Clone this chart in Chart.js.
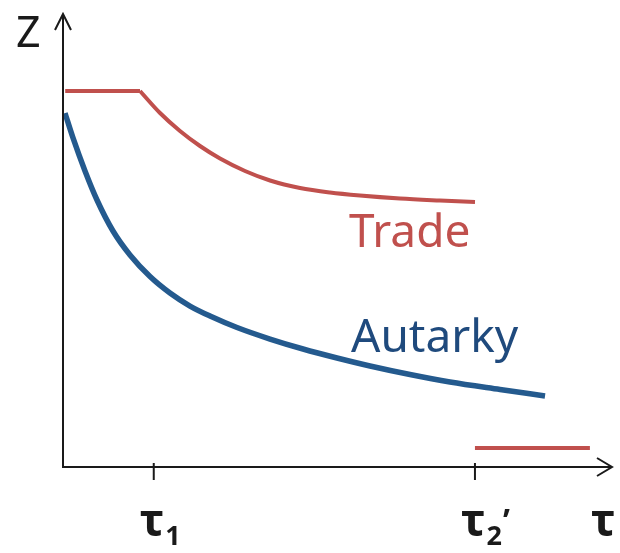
<!DOCTYPE html>
<html>
<head>
<meta charset="utf-8">
<script src="https://cdn.jsdelivr.net/npm/chart.js@4"></script>
<style>
html,body{margin:0;padding:0;background:#fff;}
#wrap{width:620px;height:553px;}
</style>
</head>
<body>
<div id="wrap"><canvas id="c" width="620" height="553"></canvas></div>
<script>
// ---- data (τ on x, Z on y, arbitrary units) ----
const tradeFlatTau = [0.04, 1.40];
const tradeFlatZ   = [8.28, 8.28];
const tradeCurveTau = [1.400, 1.764, 2.127, 2.491, 2.855, 3.309, 3.764, 4.309, 4.855, 5.400, 6.127, 6.855, 7.491];
const tradeCurveZ   = [8.282, 7.797, 7.401, 7.070, 6.795, 6.520, 6.311, 6.145, 6.046, 5.980, 5.914, 5.870, 5.837];
const tradeHighTau = [7.49, 9.58];
const tradeHighZ   = [0.42, 0.42];
const autarkyTau = [0.036, 0.182, 0.400, 0.618, 0.909, 1.218, 1.582, 1.945, 2.309, 2.673, 3.164, 3.764, 4.364, 4.982, 5.582, 6.309, 7.036, 7.945, 8.764];
const autarkyZ   = [7.797, 7.247, 6.520, 5.881, 5.198, 4.670, 4.196, 3.833, 3.546, 3.326, 3.073, 2.819, 2.599, 2.401, 2.225, 2.037, 1.872, 1.707, 1.564];
const tickValues = [1.65, 7.49];
const tickLabels = [["τ", "1", ""], ["τ", "2", "’"]];
const axisLabelY = "Z";
const axisLabelX = "τ";
const seriesLabels = ["Trade", "Autarky"];

const RED = "#C0504D";
const BLUE = "#245A8E";
const BLUE_TEXT = "#1F4A7D";

function pts(xs, ys){ return xs.map((x,i)=>({x:x, y:ys[i]})); }

const decor = {
  id: "decor",
  afterDraw(chart){
    const ctx = chart.ctx;
    const xs = chart.scales.x, ys = chart.scales.y;
    const x0 = xs.getPixelForValue(0), y0 = ys.getPixelForValue(0);
    const xEnd = xs.getPixelForValue(10), yTop = ys.getPixelForValue(10);
    ctx.save();
    ctx.strokeStyle = "#1a1a1a";
    ctx.lineWidth = 2;
    ctx.lineCap = "butt";
    // axes
    ctx.beginPath();
    ctx.moveTo(x0, y0 + 1); ctx.lineTo(x0, yTop + 1);
    ctx.moveTo(x0, y0); ctx.lineTo(xEnd - 1, y0);
    ctx.stroke();
    // arrows
    ctx.beginPath();
    ctx.moveTo(x0 - 8, yTop + 17); ctx.lineTo(x0, yTop + 1); ctx.lineTo(x0 + 8, yTop + 17);
    ctx.moveTo(xEnd - 16, y0 - 9); ctx.lineTo(xEnd - 1, y0); ctx.lineTo(xEnd - 16, y0 + 9);
    ctx.stroke();
    // tick marks
    tickValues.forEach(v=>{
      const px = xs.getPixelForValue(v);
      ctx.beginPath(); ctx.moveTo(px, y0 - 4); ctx.lineTo(px, y0 + 13); ctx.stroke();
    });
    // tick labels
    ctx.fillStyle = "#1a1a1a";
    ctx.textBaseline = "alphabetic";
    ctx.textAlign = "left";
    tickValues.forEach((v,i)=>{
      const px = xs.getPixelForValue(v);
      const [g, sub, pr] = tickLabels[i];
      ctx.font = "bold 45px 'Noto Sans'";
      const gw = ctx.measureText(g).width;
      const left = px - 14;
      ctx.fillText(g, left, 536);
      ctx.font = "bold 27px 'Noto Sans'";
      const sw = ctx.measureText(sub).width;
      ctx.fillText(sub, left + gw + 1, 545);
      if (pr) {
        ctx.font = "bold 32px 'Noto Sans'";
        ctx.fillText(pr, left + gw + sw + 2, 532);
      }
    });
    // axis labels
    ctx.font = "bold 45px 'Noto Sans'";
    ctx.fillText(axisLabelX, 591, 536);
    ctx.font = "43px 'Noto Sans'";
    ctx.fillText(axisLabelY, 16, 47);
    // series labels
    ctx.font = "46px 'Noto Sans'";
    ctx.fillStyle = RED;
    ctx.fillText(seriesLabels[0], 349, 247);
    ctx.fillStyle = BLUE_TEXT;
    ctx.fillText(seriesLabels[1], 351, 352);
    ctx.restore();
  }
};

new Chart(document.getElementById("c"), {
  type: "line",
  data: {
    datasets: [
      { label: "Trade", data: pts(tradeFlatTau, tradeFlatZ), borderColor: RED, borderWidth: 4, tension: 0, pointRadius: 0 },
      { label: "Trade", data: pts(tradeCurveTau, tradeCurveZ), borderColor: RED, borderWidth: 4, cubicInterpolationMode: "monotone", pointRadius: 0 },
      { label: "Trade", data: pts(tradeHighTau, tradeHighZ), borderColor: RED, borderWidth: 4, tension: 0, pointRadius: 0 },
      { label: "Autarky", data: pts(autarkyTau, autarkyZ), borderColor: BLUE, borderWidth: 5.5, cubicInterpolationMode: "monotone", pointRadius: 0 }
    ]
  },
  options: {
    responsive: false,
    animation: false,
    devicePixelRatio: 1,
    layout: { padding: { left: 63, right: 7, top: 13, bottom: 86 } },
    plugins: { legend: { display: false }, tooltip: { enabled: false } },
    scales: {
      x: { type: "linear", min: 0, max: 10, display: false },
      y: { type: "linear", min: 0, max: 10, display: false }
    },
    elements: { line: { borderCapStyle: "butt", borderJoinStyle: "round", fill: false } }
  },
  plugins: [decor]
});
</script>
</body>
</html>
